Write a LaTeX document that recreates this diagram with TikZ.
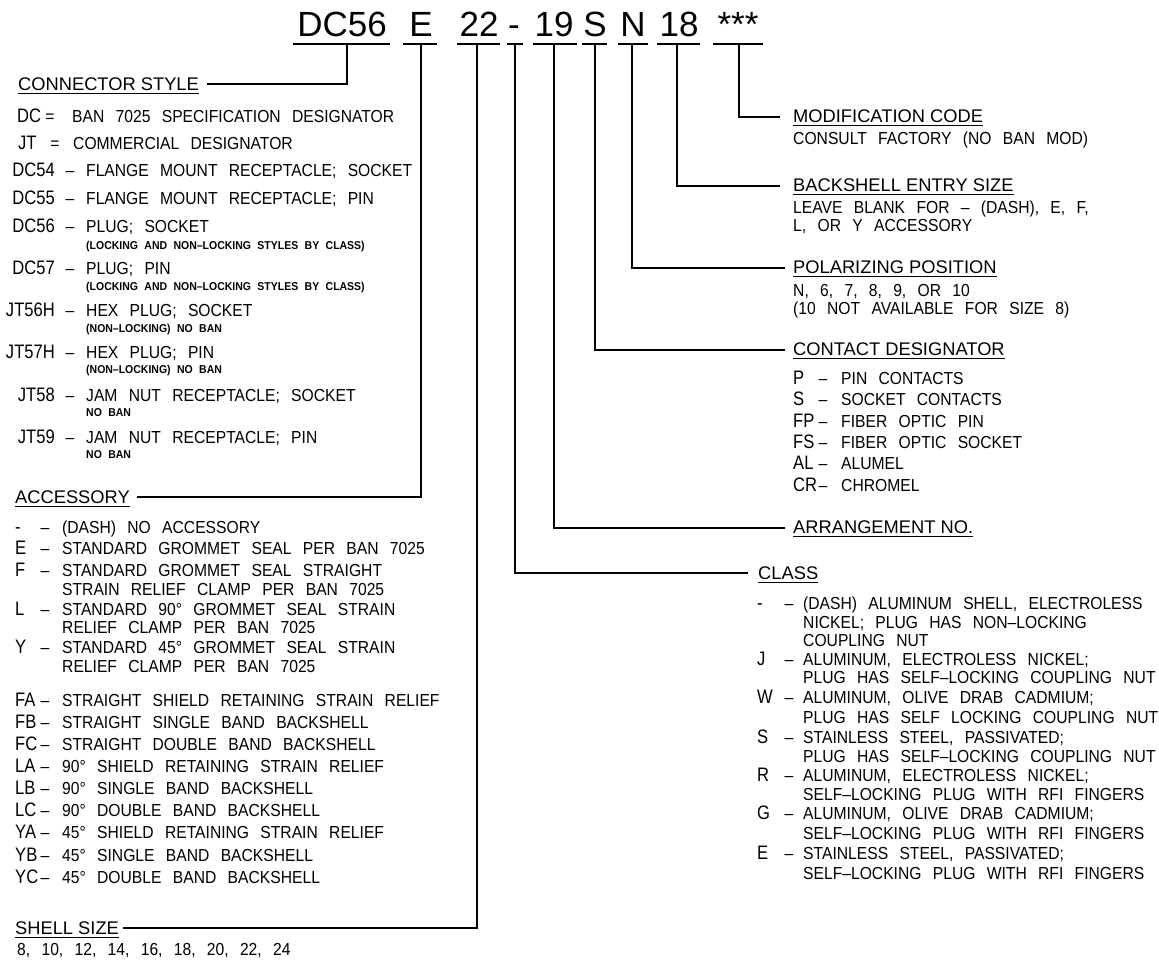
\documentclass[tikz,border=0pt]{standalone}
\usepackage{fontspec}
\setmainfont{Liberation Sans}
\newfontfamily\bodyf[FakeStretch=0.9,WordSpace=2.6]{Liberation Sans}
\newfontfamily\codef[FakeStretch=0.85]{Liberation Sans}
\newfontfamily\smallf[FakeStretch=0.92,WordSpace=2.2]{Liberation Sans}
\newfontfamily\hdrf{Liberation Sans}
\newcommand\fBody{\bodyf\fontsize{17.4}{20}\selectfont}
\newcommand\fCode{\codef\fontsize{19.5}{22}\selectfont}
\newcommand\fSmall{\smallf\bfseries\fontsize{11.4}{13}\selectfont}
\newcommand\fHdr{\hdrf\fontsize{18.3}{21}\selectfont}
\newcommand\fBig{\fontsize{35}{40}\selectfont}
\newcommand\lrow[4]{\node[cdr] (c#1) at (55,#2) {#3}; \node[dsh] (m#1) at (70,#2) {–}; \node[tx] (d#1) at (86,#2) {#4};}
\newcommand\arow[4]{\node[cd] (a#1) at (15,#2) {#3}; \node[dsh] (am#1) at (45,#2) {–}; \node[tx] (ad#1) at (62,#2) {#4};}
\newcommand\crow[4]{\node[cd] (k#1) at (793,#2) {#3}; \node[dsh] (km#1) at (823,#2) {–}; \node[tx] (kd#1) at (841,#2) {#4};}
\newcommand\klrow[4]{\node[cd] (q#1) at (757,#2) {#3}; \node[dsh] (qm#1) at (789,#2) {–}; \node[tx] (qd#1) at (803,#2) {#4};}
\tikzset{
  tx/.style={font=\fBody, anchor=base west, inner sep=0pt},
  cd/.style={font=\fCode, anchor=base west, inner sep=0pt},
  cdr/.style={font=\fCode, anchor=base east, inner sep=0pt},
  dsh/.style={font=\fBody, anchor=base, inner sep=0pt},
  sm/.style={font=\fSmall, anchor=base west, inner sep=0pt},
  uline/.style={draw, line width=1.1pt},
  hdr/.style={font=\fHdr, anchor=base west, inner sep=0pt,
    append after command={([yshift=-3pt]\tikzlastnode.base west) edge[uline] ([yshift=-3pt]\tikzlastnode.base east)}},
  big/.style={font=\fBig, anchor=base, inner sep=0pt},
  bar/.style={line width=2pt},
  conn/.style={line width=1.8pt, line join=miter}
}
\begin{document}
\begin{tikzpicture}[x=1pt,y=-1pt]
\fill[white] (0,0) rectangle (1159,960);
\path[use as bounding box] (0,0) rectangle (1159,960);

% ---- top code ----
\node[big] (pDC) at (342,37) {DC56};
\node[big] (pE) at (421,37) {E};
\node[big] (p22) at (479,37) {22};
\node[big] (pD) at (514,37) {-};
\node[big] (p19) at (554,37) {19};
\node[big] (pS) at (595,37) {S};
\node[big] (pN) at (633,37) {N};
\node[big] (p18) at (679,37) {18};
\node[big] (pA) at (738,37) {***};

\draw[bar] (293,44) -- (390,44);
\draw[bar] (403,44) -- (437,44);
\draw[bar] (457,44) -- (500,44);
\draw[bar] (507,44) -- (523,44);
\draw[bar] (533,44) -- (577,44);
\draw[bar] (582,44) -- (607,44);
\draw[bar] (618,44) -- (648,44);
\draw[bar] (657,44) -- (700,44);
\draw[bar] (713,44) -- (763,44);

\coordinate (tDC) at (347,44);
\coordinate (tE) at (421,44);
\coordinate (t22) at (477,44);
\coordinate (tD) at (515,44);
\coordinate (t19) at (554,44);
\coordinate (tS) at (595,44);
\coordinate (tN) at (632,44);
\coordinate (t18) at (677,44);
\coordinate (tA) at (739,44);

\coordinate (eCS) at (207,84);
\coordinate (eAC) at (137,497);
\coordinate (eSS) at (123,928);
\coordinate (eCL) at (748,573);
\coordinate (eAN) at (785,528);
\coordinate (eCD) at (785,350);
\coordinate (ePP) at (785,268);
\coordinate (eBE) at (780,186);
\coordinate (eMC) at (780,117);

\draw[conn] (tDC) |- (eCS);
\draw[conn] (tE) |- (eAC);
\draw[conn] (t22) |- (eSS);
\draw[conn] (tD) |- (eCL);
\draw[conn] (t19) |- (eAN);
\draw[conn] (tS) |- (eCD);
\draw[conn] (tN) |- (ePP);
\draw[conn] (t18) |- (eBE);
\draw[conn] (tA) |- (eMC);

% ---- connector style ----
\node[hdr] (hCS) at (18,90.5) {CONNECTOR STYLE};
\node[cd] (c1) at (17,123) {DC}; \node[dsh] (e1) at (50,123) {=}; \node[tx] (d1) at (72,123) {BAN 7025 SPECIFICATION DESIGNATOR};
\node[cd] (c2) at (18,150) {JT}; \node[dsh] (e2) at (55,150) {=}; \node[tx] (d2) at (73,150) {COMMERCIAL DESIGNATOR};
\lrow{3}{177}{DC54}{FLANGE MOUNT RECEPTACLE; SOCKET}
\lrow{4}{205}{DC55}{FLANGE MOUNT RECEPTACLE; PIN}
\lrow{5}{233}{DC56}{PLUG; SOCKET}
\node[sm] (s5) at (86,249) {(LOCKING AND NON–LOCKING STYLES BY CLASS)};
\lrow{6}{274}{DC57}{PLUG; PIN}
\node[sm] (s6) at (86,290) {(LOCKING AND NON–LOCKING STYLES BY CLASS)};
\lrow{7}{316}{JT56H}{HEX PLUG; SOCKET}
\node[sm] (s7) at (86,332) {(NON–LOCKING) NO BAN};
\lrow{8}{358}{JT57H}{HEX PLUG; PIN}
\node[sm] (s8) at (86,373) {(NON–LOCKING) NO BAN};
\lrow{9}{401}{JT58}{JAM NUT RECEPTACLE; SOCKET}
\node[sm] (s9) at (86,416) {NO BAN};
\lrow{10}{443}{JT59}{JAM NUT RECEPTACLE; PIN}
\node[sm] (s10) at (86,458) {NO BAN};

% ---- accessory ----
\node[hdr] (hAC) at (15,503.5) {ACCESSORY};
\arow{1}{533}{-}{(DASH) NO ACCESSORY}
\arow{2}{554}{E}{STANDARD GROMMET SEAL PER BAN 7025}
\arow{3}{576}{F}{STANDARD GROMMET SEAL STRAIGHT}
\node[tx] (ad3b) at (62,595) {STRAIN RELIEF CLAMP PER BAN 7025};
\arow{4}{615}{L}{STANDARD 90° GROMMET SEAL STRAIN}
\node[tx] (ad4b) at (62,633) {RELIEF CLAMP PER BAN 7025};
\arow{5}{653}{Y}{STANDARD 45° GROMMET SEAL STRAIN}
\node[tx] (ad5b) at (62,672) {RELIEF CLAMP PER BAN 7025};
\arow{6}{706}{FA}{STRAIGHT SHIELD RETAINING STRAIN RELIEF}
\arow{7}{728}{FB}{STRAIGHT SINGLE BAND BACKSHELL}
\arow{8}{750}{FC}{STRAIGHT DOUBLE BAND BACKSHELL}
\arow{9}{772}{LA}{90° SHIELD RETAINING STRAIN RELIEF}
\arow{10}{794}{LB}{90° SINGLE BAND BACKSHELL}
\arow{11}{816}{LC}{90° DOUBLE BAND BACKSHELL}
\arow{12}{838}{YA}{45° SHIELD RETAINING STRAIN RELIEF}
\arow{13}{861}{YB}{45° SINGLE BAND BACKSHELL}
\arow{14}{883}{YC}{45° DOUBLE BAND BACKSHELL}

% ---- shell size ----
\node[hdr] (hSS) at (15,934.5) {SHELL SIZE};
\node[tx] (ss) at (17,955) {8, 10, 12, 14, 16, 18, 20, 22, 24};

% ---- right column ----
\node[hdr] (hMC) at (793,122.5) {MODIFICATION CODE};
\node[tx] (mc1) at (793,145) {CONSULT FACTORY (NO BAN MOD)};
\node[hdr] (hBE) at (793,191.5) {BACKSHELL ENTRY SIZE};
\node[tx] (be1) at (793,214) {LEAVE BLANK FOR – (DASH), E, F,};
\node[tx] (be2) at (793,231) {L, OR Y ACCESSORY};
\node[hdr] (hPP) at (793,273.5) {POLARIZING POSITION};
\node[tx] (pp1) at (793,296) {N, 6, 7, 8, 9, OR 10};
\node[tx] (pp2) at (793,314) {(10 NOT AVAILABLE FOR SIZE 8)};
\node[hdr] (hCD) at (793,355.5) {CONTACT DESIGNATOR};
\crow{1}{384}{P}{PIN CONTACTS}
\crow{2}{405}{S}{SOCKET CONTACTS}
\crow{3}{427}{FP}{FIBER OPTIC PIN}
\crow{4}{448}{FS}{FIBER OPTIC SOCKET}
\crow{5}{469}{AL}{ALUMEL}
\crow{6}{491}{CR}{CHROMEL}
\node[hdr] (hAN) at (793,533.5) {ARRANGEMENT NO.};
\node[hdr] (hCL) at (758,579.5) {CLASS};
\klrow{1}{609}{-}{(DASH) ALUMINUM SHELL, ELECTROLESS}
\node[tx] (qd1b) at (803,628) {NICKEL; PLUG HAS NON–LOCKING};
\node[tx] (qd1c) at (803,646) {COUPLING NUT};
\klrow{2}{665}{J}{ALUMINUM, ELECTROLESS NICKEL;}
\node[tx] (qd2b) at (803,683) {PLUG HAS SELF–LOCKING COUPLING NUT};
\klrow{3}{703}{W}{ALUMINUM, OLIVE DRAB CADMIUM;}
\node[tx] (qd3b) at (803,723) {PLUG HAS SELF LOCKING COUPLING NUT};
\klrow{4}{743}{S}{STAINLESS STEEL, PASSIVATED;}
\node[tx] (qd4b) at (803,762) {PLUG HAS SELF–LOCKING COUPLING NUT};
\klrow{5}{781}{R}{ALUMINUM, ELECTROLESS NICKEL;}
\node[tx] (qd5b) at (803,800) {SELF–LOCKING PLUG WITH RFI FINGERS};
\klrow{6}{819}{G}{ALUMINUM, OLIVE DRAB CADMIUM;}
\node[tx] (qd6b) at (803,839) {SELF–LOCKING PLUG WITH RFI FINGERS};
\klrow{7}{859}{E}{STAINLESS STEEL, PASSIVATED;}
\node[tx] (qd7b) at (803,879) {SELF–LOCKING PLUG WITH RFI FINGERS};
\end{tikzpicture}
\end{document}
